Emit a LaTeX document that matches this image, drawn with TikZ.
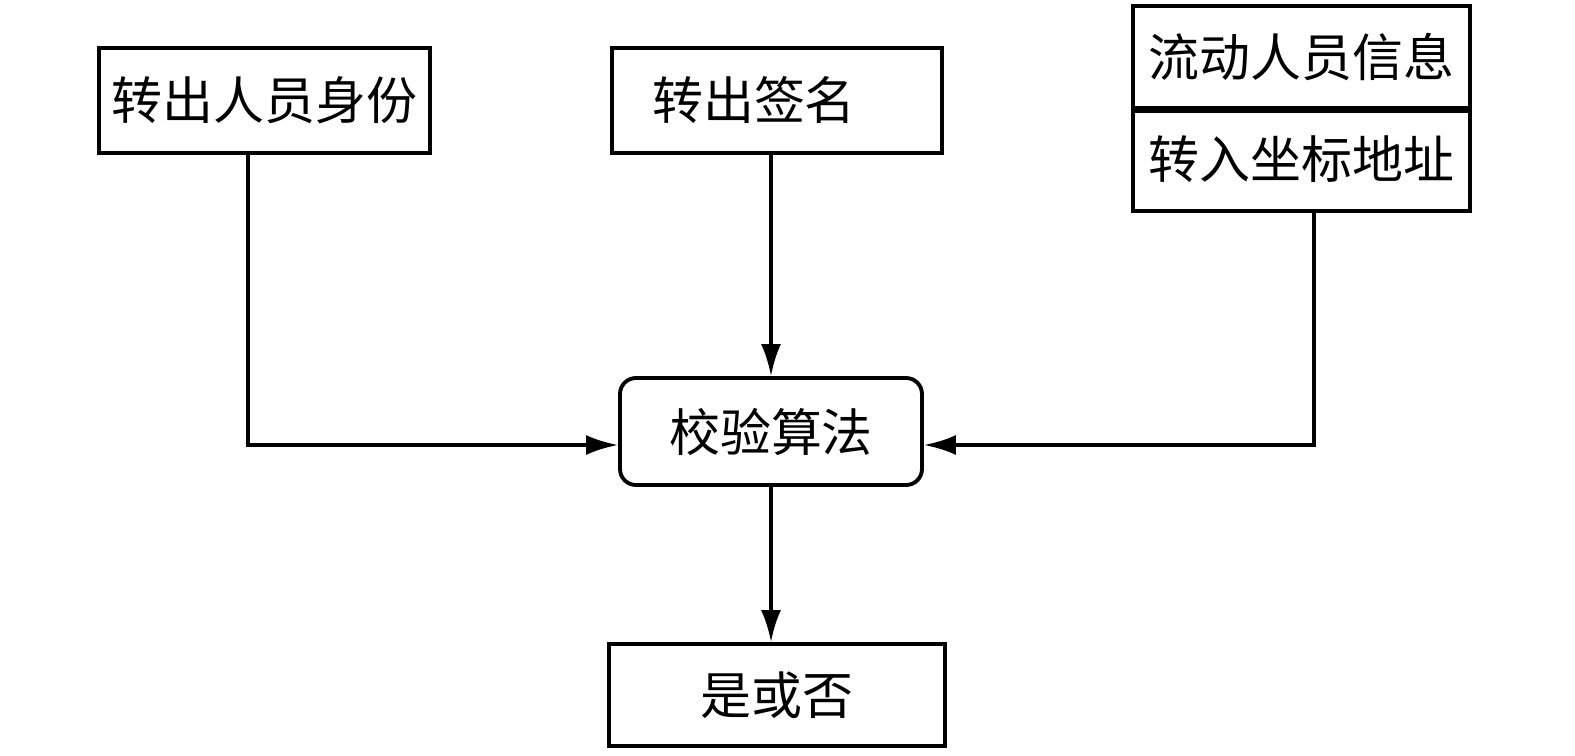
\documentclass[tikz,border=0pt]{standalone}
\usepackage{fontspec}
\usepackage{tikz}
\usetikzlibrary{arrows.meta}
\newfontfamily\cjk{Noto Sans CJK SC}
\newcommand{\flowBox}[6]{
	\node[box, minimum width = #4cm, minimum height = #5cm] (#1) at (#2, #3) {#6};
}
\tikzset{
	box/.style = {draw, line width = 1.1pt, inner sep = 0pt, font = \cjk\fontsize{14.5}{17}\selectfont},
	link/.style = {line width = 1pt, -{Latex[length = 3.2mm, width = 2mm]}}
}

\begin{document}
\begin{tikzpicture}%
		\useasboundingbox (0, 0) rectangle (15.75, -7.56);

		% inputs
		\flowBox{sfz}{2.645}{-1.005}{3.31}{1.05}{转出人员身份}
		\flowBox{qm}{7.77}{-1.005}{3.30}{1.05}{转出签名\kern4.6mm}
		\flowBox{xx}{13.015}{-0.57}{3.37}{1.02}{流动人员信息}
		\flowBox{dz}{13.015}{-1.595}{3.37}{1.03}{转入坐标地址}
		\draw[line width = 1.6pt] (xx.south west) -- (xx.south east);

		% check
		\node[box, rounded corners = 1.6mm, minimum width = 3.02cm, minimum height = 1.07cm] (jy) at (7.71, -4.315) {校验算法};

		% result
		\flowBox{sf}{7.77}{-6.95}{3.36}{1.02}{是或否}

		% links
		\draw[link] ([xshift = -1.65mm]sfz.south) |- ([yshift = -1.35mm]jy.west);
		\draw[link] (qm.south -| jy.north) -- (jy.north);
		\draw[link] ([xshift = 1.25mm]dz.south) |- ([yshift = -1.35mm]jy.east);
		\draw[link] (jy.south) -- (jy.south |- sf.north);
	\end{tikzpicture}
\end{document}
